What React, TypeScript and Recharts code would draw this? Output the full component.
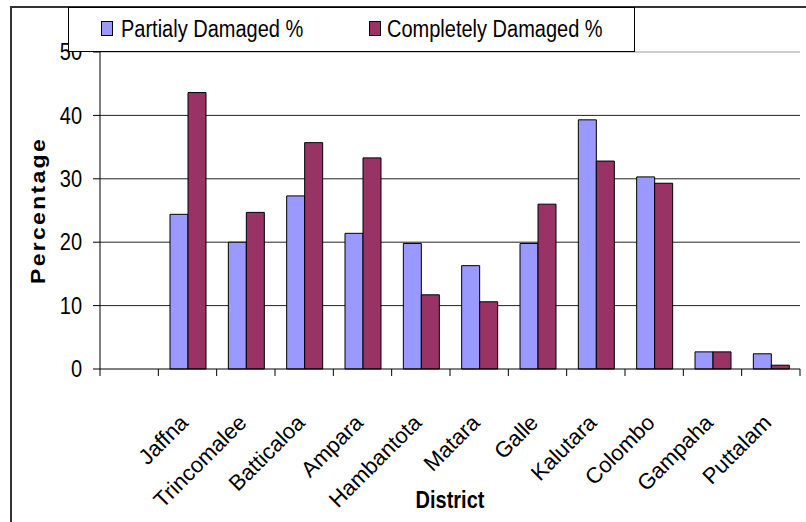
import React from 'react';
import { BarChart, Bar, XAxis, YAxis, CartesianGrid, ReferenceLine } from 'recharts';

const districts = ['', 'Jaffna', 'Trincomalee', 'Batticaloa', 'Ampara', 'Hambantota', 'Matara', 'Galle', 'Kalutara', 'Colombo', 'Gampaha', 'Puttalam'];
const partialDamaged = [null, 24.4, 20.0, 27.3, 21.4, 19.8, 16.3, 19.8, 39.3, 30.3, 2.7, 2.4];
const completelyDamaged = [null, 43.6, 24.7, 35.7, 33.3, 11.7, 10.6, 26.0, 32.8, 29.3, 2.7, 0.6];
const yTicks = [0, 10, 20, 30, 40, 50];
const gridValues = [10, 20, 30, 40];

const series = [
  { key: 'partial', name: 'Partialy Damaged %', color: '#9999FF' },
  { key: 'complete', name: 'Completely Damaged %', color: '#993366' },
];

const data = districts.map((d, i) => ({
  district: d,
  partial: partialDamaged[i],
  complete: completelyDamaged[i],
}));

const FONT = '"Liberation Sans", Arial, sans-serif';

const YTick = (props: any) => {
  const { x, y, payload } = props;
  return (
    <g transform={`translate(${x},${y})`}>
      <text transform="scale(1,1.15)" textAnchor="end" dy="0.36em" fontSize={20} fontFamily={FONT} fill="#000">
        {payload.value}
      </text>
    </g>
  );
};

const XTick = (props: any) => {
  const { x, y, payload, index, visibleTicksCount } = props;
  const half = payload && payload.offset ? payload.offset : 700 / 12 / 2;
  const isLast = index === (visibleTicksCount ?? districts.length) - 1;
  return (
    <g>
      <line x1={x - half} y1={y} x2={x - half} y2={y + 7} stroke="#000" strokeWidth={1} />
      {isLast && <line x1={x + half} y1={y} x2={x + half} y2={y + 7} stroke="#000" strokeWidth={1} />}
      <g transform={`translate(${x + 2},${y + 55})`}>
        <text transform="rotate(-45)" textAnchor="end" fontSize={22} fontFamily={FONT} fill="#000">
          {payload.value}
        </text>
      </g>
    </g>
  );
};

const XLabel = (props: any) => {
  const vb = props.viewBox || { x: 100, y: 369, width: 700, height: 153 };
  return (
    <g transform={`translate(${vb.x + vb.width / 2},${vb.y + 139})`}>
      <text transform="scale(1,1.2)" textAnchor="middle" fontSize={20} fontWeight="bold" fontFamily={FONT} fill="#000">
        District
      </text>
    </g>
  );
};

const YLabel = (props: any) => {
  const vb = props.viewBox || { x: 40, y: 52, width: 60, height: 317 };
  return (
    <g transform={`translate(45,${vb.y + vb.height / 2}) scale(1,1.15) rotate(-90)`}>
      <text textAnchor="middle" fontSize={20} fontWeight="bold" letterSpacing={2} fontFamily={FONT} fill="#000">
        Percentage
      </text>
    </g>
  );
};

export default function App() {
  return (
    <div style={{ position: 'absolute', left: 0, top: 0, width: 806, height: 522, background: '#fff', overflow: 'hidden' }}>
      <div
        style={{
          position: 'absolute',
          left: 10,
          top: 6,
          width: 806,
          height: 522,
          borderLeft: '2px solid #333',
          borderTop: '2px solid #333',
          boxSizing: 'border-box',
        }}
      />
      <div style={{ position: 'absolute', left: 0, top: 0 }}>
        <BarChart
          width={806}
          height={522}
          data={data}
          margin={{ top: 52, right: 6, bottom: 0, left: 40 }}
          barCategoryGap="20%"
          barGap={0}
        >
          <CartesianGrid vertical={false} horizontalValues={gridValues} stroke="#222" strokeWidth={1} />
          <ReferenceLine y={50} stroke="#999" strokeWidth={1} />
          <XAxis
            dataKey="district"
            interval={0}
            height={153}
            tickLine={false}
            tickSize={0}
            tickMargin={0}
            axisLine={{ stroke: '#000', strokeWidth: 1 }}
            tick={<XTick />}
            label={<XLabel />}
          />
          <YAxis
            domain={[0, 50]}
            ticks={yTicks}
            width={60}
            interval={0}
            tickSize={7}
            tickMargin={11}
            axisLine={{ stroke: '#000', strokeWidth: 1 }}
            tickLine={{ stroke: '#000', strokeWidth: 1 }}
            tick={<YTick />}
            label={<YLabel />}
          />
          <YAxis
            yAxisId="right"
            orientation="right"
            domain={[0, 50]}
            width={0}
            tick={false}
            tickLine={false}
            axisLine={{ stroke: '#999', strokeWidth: 1 }}
          />
          {series.map((s) => (
            <Bar
              key={s.key}
              dataKey={s.key}
              name={s.name}
              fill={s.color}
              stroke="#000"
              strokeWidth={1}
              isAnimationActive={false}
            />
          ))}
        </BarChart>
      </div>
      <div
        style={{
          position: 'absolute',
          left: 68,
          top: 7,
          width: 567,
          height: 45,
          border: '1px solid #000',
          background: '#fff',
          boxSizing: 'border-box',
          fontFamily: FONT,
        }}
      >
        {series.map((s, i) => (
          <React.Fragment key={s.key}>
            <div
              style={{
                position: 'absolute',
                left: i === 0 ? 32 : 300,
                top: 13,
                width: 12,
                height: 15,
                background: s.color,
                border: '1.5px solid #000',
                boxSizing: 'border-box',
              }}
            />
            <div
              style={{
                position: 'absolute',
                left: i === 0 ? 52 : 318,
                top: 8,
                fontSize: 20,
                lineHeight: '26px',
                whiteSpace: 'nowrap',
                color: '#000',
                transform: 'scaleY(1.15)',
                transformOrigin: 'left center',
              }}
            >
              {s.name}
            </div>
          </React.Fragment>
        ))}
      </div>
    </div>
  );
}
